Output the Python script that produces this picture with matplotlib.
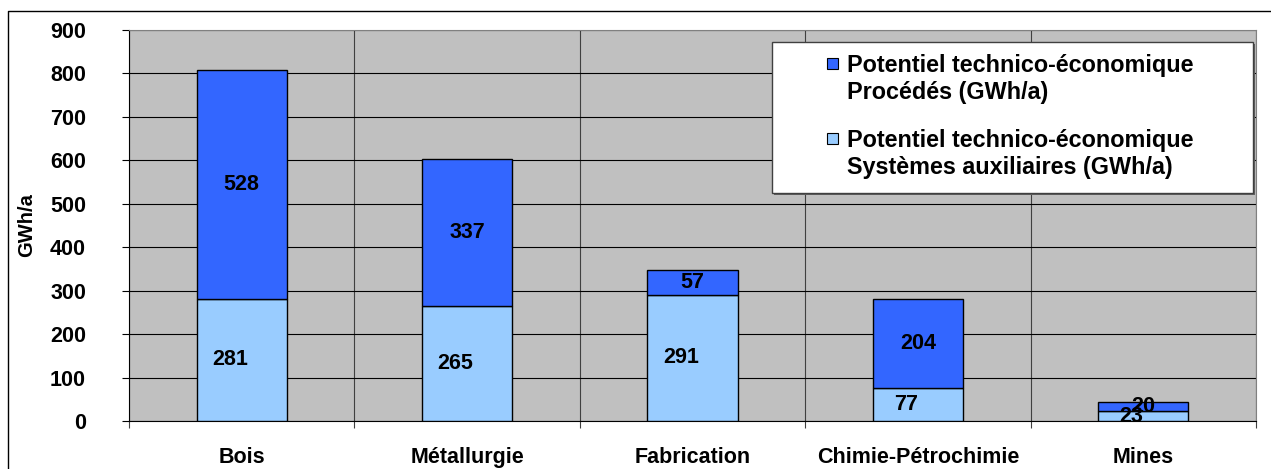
import numpy as np
import matplotlib
matplotlib.use('Agg')
import matplotlib.pyplot as plt
from matplotlib.patches import Rectangle
from matplotlib.lines import Line2D

plt.rcParams['font.family'] = ['Liberation Sans', 'DejaVu Sans']
plt.rcParams['font.weight'] = 'bold'

# ── Data ──────────────────────────────────────────────────────────────────────
sectors   = ['Bois', 'Métallurgie', 'Fabrication', 'Chimie-Pétrochimie', 'Mines']
auxiliary = [281, 265, 291, 77, 23]     # Systèmes auxiliaires (GWh/a)
process   = [528, 337, 57, 204, 20]     # Procédés (GWh/a)
y_ticks   = [0, 100, 200, 300, 400, 500, 600, 700, 800, 900]

lbl_proc = 'Potentiel technico-économique\nProcédés (GWh/a)'
lbl_aux  = 'Potentiel technico-économique\nSystèmes auxiliaires (GWh/a)'

C_PROC = '#3366FF'
C_AUX  = '#99CCFF'
C_BG   = '#C0C0C0'

W, H = 1271, 469
fig = plt.figure(figsize=(W / 100, H / 100), dpi=100)
ax = fig.add_axes([129 / W, (H - 421) / H, (1256 - 129) / W, (421 - 30) / H])
ax.set_facecolor(C_BG)

x = np.arange(len(sectors))
aux = np.array(auxiliary)
proc = np.array(process)

ax.bar(x, aux, width=0.4, color=C_AUX, edgecolor='black', lw=1.0, zorder=3)
ax.bar(x, proc, bottom=aux, width=0.4, color=C_PROC, edgecolor='black', lw=1.0, zorder=3)

# value labels
for xi, a, p in zip(x, aux, proc):
    ax.annotate(f'{a}', (xi, a / 2), xytext=(-8.5, 0), textcoords='offset points',
                ha='center', va='center', fontsize=15.5, fontweight='bold', zorder=5)
    ax.annotate(f'{p}', (xi, a + p / 2), xytext=(0, 0), textcoords='offset points',
                ha='center', va='center', fontsize=15.5, fontweight='bold', zorder=5)

ax.set_xlim(-0.5, len(sectors) - 0.5)
ax.set_ylim(0, 900)
ax.set_yticks(y_ticks)
ax.tick_params(axis='y', length=5, width=0.8, pad=26, labelsize=15.5)
for t in ax.get_yticklabels():
    t.set_fontweight('bold')

# boundaries as major ticks, names on minor ticks
ax.set_xticks(np.arange(len(sectors) + 1) - 0.5)
ax.set_xticklabels([])
ax.set_xticks(x, minor=True)
ax.set_xticklabels(sectors, minor=True, fontsize=15.5, fontweight='bold')
ax.tick_params(axis='x', which='major', length=5, width=0.8, color='#404040')
ax.tick_params(axis='x', which='minor', length=0, pad=19)

ax.grid(True, axis='y', color='black', lw=0.8, zorder=1)
ax.grid(True, axis='x', which='major', color='#404040', lw=0.8, zorder=1)
for s in ['top', 'right']:
    ax.spines[s].set_color('#808080')
    ax.spines[s].set_linewidth(0.8)
for s in ['left', 'bottom']:
    ax.spines[s].set_color('black')
    ax.spines[s].set_linewidth(0.8)

fig.text(27 / W, 1 - 225 / H, 'GWh/a', rotation=90, ha='center', va='center',
         fontsize=14.5, fontweight='bold')

# legend box (axes coordinates)
def ax_xy(px, py):
    return ((px - 129) / (1256 - 129), (421 - py) / (421 - 30))

lx0, ly0 = ax_xy(772, 193)
lx1, ly1 = ax_xy(1253, 42)
ax.add_patch(Rectangle((lx0 + 0.0015, ly0 - 0.004), lx1 - lx0, ly1 - ly0,
                       transform=ax.transAxes, facecolor='#606060',
                       edgecolor='none', zorder=6, clip_on=False))
ax.add_patch(Rectangle((lx0, ly0), lx1 - lx0, ly1 - ly0, transform=ax.transAxes,
                       facecolor='white', edgecolor='#404040', lw=1.0, zorder=7,
                       clip_on=False))
for (label, col, ytop) in [(lbl_proc, C_PROC, 64), (lbl_aux, C_AUX, 139)]:
    mx, my = ax_xy(827, ytop + 5)
    mw = 11 / (1256 - 129)
    mh = 11 / (421 - 30)
    ax.add_patch(Rectangle((mx, my), mw, mh, transform=ax.transAxes,
                           facecolor=col, edgecolor='black', lw=0.8, zorder=8,
                           clip_on=False))
    tx, ty = ax_xy(847, ytop + 15)
    ax.text(tx, ty, label, transform=ax.transAxes, ha='left', va='center',
            fontsize=16.8, fontweight='bold', linespacing=1.25, zorder=8)

# outer chart frame
fig.add_artist(Line2D([8 / W, 8 / W, 1.0], [0.0, 1 - 11 / H, 1 - 11 / H],
                      transform=fig.transFigure, color='black', lw=1.0))

fig.savefig('out.png', dpi=100)
